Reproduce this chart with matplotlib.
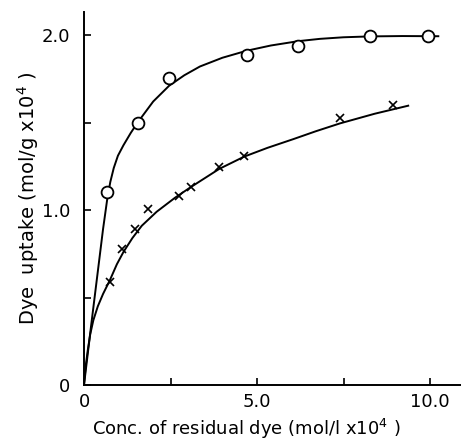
import numpy as np
import matplotlib
matplotlib.use('Agg')
import matplotlib.pyplot as plt

# circles (upper series)
circ_x = [0.67, 1.55, 2.46, 4.70, 6.19, 8.27, 9.95]
circ_y = [1.10, 1.50, 1.753, 1.884, 1.94, 1.994, 1.994]

# crosses (lower series)
cross_x = [0.75, 1.11, 1.47, 1.84, 2.75, 3.08, 3.91, 4.63, 7.40, 8.92]
cross_y = [0.59, 0.775, 0.89, 1.005, 1.08, 1.133, 1.244, 1.309, 1.524, 1.60]

# drawn curves
curve1_x = [0, 0.2, 0.4, 0.55, 0.67, 0.76, 0.86, 0.98, 1.14, 1.35, 1.55, 2.0, 2.46, 2.9, 3.35,
            4.0, 4.70, 5.4, 6.2, 6.82, 7.5, 8.27, 9.2, 10.24]
curve1_y = [0, 0.33, 0.65, 0.89, 1.06, 1.16, 1.24, 1.31, 1.37, 1.44, 1.50, 1.62, 1.71, 1.77, 1.82,
            1.87, 1.91, 1.94, 1.965, 1.978, 1.987, 1.992, 1.994, 1.993]

curve2_x = [0, 0.05, 0.11, 0.18, 0.27, 0.4, 0.55, 0.75, 0.95, 1.14, 1.4, 1.67, 2.1, 2.63,
            3.08, 3.91, 4.63, 5.3, 6.05, 6.7, 7.40, 8.4, 9.37]
curve2_y = [0, 0.11, 0.20, 0.29, 0.37, 0.45, 0.52, 0.60, 0.69, 0.76, 0.84, 0.91, 0.99, 1.07,
            1.13, 1.235, 1.305, 1.355, 1.405, 1.45, 1.495, 1.55, 1.596]

x_ticks = [0, 2.5, 5.0, 7.5, 10.0]
x_tick_labels = ['0', '', '5.0', '', '10.0']
y_ticks = [0, 0.5, 1.0, 1.5, 2.0]
y_tick_labels = ['0', '', '1.0', '', '2.0']

fig = plt.figure(figsize=(4.61, 4.41), dpi=100)
ax = fig.add_axes([84 / 461, 56 / 441, 1 - 84 / 461, (385 - 12) / 441])

ax.plot(curve1_x, curve1_y, color='k', linewidth=1.4)
ax.plot(curve2_x, curve2_y, color='k', linewidth=1.4)
ax.plot(circ_x, circ_y, linestyle='none', marker='o', markersize=8.5,
        markerfacecolor='white', markeredgecolor='k', markeredgewidth=1.3)
ax.plot(cross_x, cross_y, linestyle='none', marker='x', markersize=6,
        color='k', markeredgewidth=1.2)

ax.set_xlim(0, (461 - 84) / 34.6)
ax.set_ylim(0, (385 - 12) / 175)
ax.spines['top'].set_visible(False)
ax.spines['right'].set_visible(False)
ax.spines['left'].set_linewidth(1.4)
ax.spines['bottom'].set_linewidth(1.4)

ax.set_xticks(x_ticks)
ax.set_xticklabels(x_tick_labels)
ax.set_yticks(y_ticks)
ax.set_yticklabels(y_tick_labels)
ax.tick_params(direction='in', length=5, width=1.2, labelsize=13)
ax.tick_params(axis='x', pad=6)
ax.tick_params(axis='y', pad=10)

ax.set_xlabel(r'Conc. of residual dye (mol/l x10$^4$ )', fontsize=13)
ax.xaxis.set_label_coords(0.43, -0.085)
ax.set_ylabel(r'Dye  uptake (mol/g x10$^4$ )', fontsize=14)
ax.yaxis.set_label_coords(-0.115, 0.50)

fig.savefig('out.png', dpi=100, facecolor='white')
